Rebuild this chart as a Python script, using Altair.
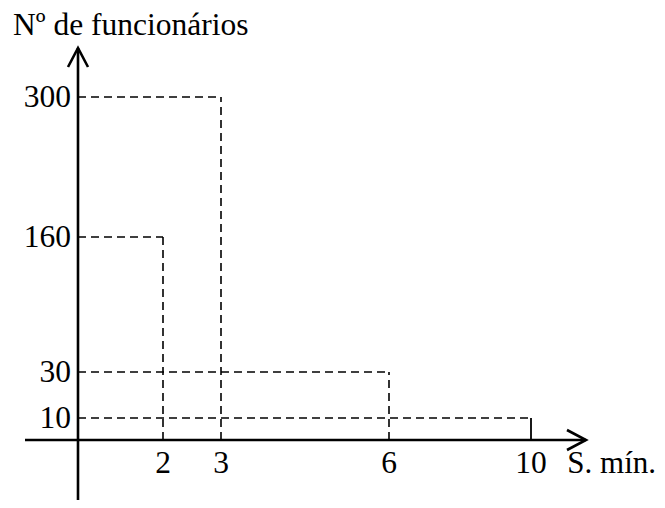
import altair as alt
import pandas as pd

# data
salarios = [2, 3, 6, 10]            # S. mín.
funcionarios = [160, 300, 30, 10]   # Nº de funcionários
x_ticks = [2, 3, 6, 10]
y_ticks = [10, 30, 160, 300]

df = pd.DataFrame({"x": salarios, "y": funcionarios})
df["x0"] = 0
df["y0"] = 0
df_xt = pd.DataFrame({"v": x_ticks, "z": 0, "t": [str(v) for v in x_ticks]})
df_yt = pd.DataFrame({"v": y_ticks, "z": 0, "t": [str(v) for v in y_ticks]})

FONT = "'Liberation Serif', 'Times New Roman', Times, serif"
FS = 31.5
xs = alt.Scale(domain=[0, 2, 3, 6, 10], range=[70, 155, 213, 381, 523], nice=False, zero=False)
ys = alt.Scale(domain=[0, 10, 30, 160, 300], range=[432, 410, 364, 229, 89], nice=False, zero=False)

base = alt.Chart(df)

hdash = base.mark_rule(color="black", strokeWidth=1.6, strokeDash=[8, 5]).encode(
    x=alt.X("x0:Q", scale=xs, axis=None),
    x2="x:Q",
    y=alt.Y("y:Q", scale=ys, axis=None),
)
vdash = base.transform_filter("datum.x < 10").mark_rule(
    color="black", strokeWidth=1.6, strokeDash=[8, 5]
).encode(
    x=alt.X("x:Q", scale=xs, axis=None),
    y=alt.Y("y0:Q", scale=ys, axis=None),
    y2="y:Q",
)
vsolid = base.transform_filter("datum.x >= 10").mark_rule(
    color="black", strokeWidth=1.8
).encode(
    x=alt.X("x:Q", scale=xs, axis=None),
    y=alt.Y("y0:Q", scale=ys, axis=None),
    y2="y:Q",
)

yaxis = alt.Chart(df_xt.head(1)).mark_rule(color="black", strokeWidth=2.6).encode(
    x=alt.X("z:Q", scale=xs, axis=None),
    y=alt.value(40),
    y2=alt.value(497),
)
xaxis = alt.Chart(df_yt.head(1)).mark_rule(color="black", strokeWidth=2.6).encode(
    y=alt.Y("z:Q", scale=ys, axis=None),
    x=alt.value(17),
    x2=alt.value(578),
)
yarrow = alt.Chart(df_xt.head(1)).mark_point(
    shape="M-1,1.9L0,0L1,1.9", filled=False, color="black", strokeWidth=2.6, size=400, opacity=1
).encode(
    x=alt.X("z:Q", scale=xs, axis=None),
    y=alt.value(40),
)
xarrow = alt.Chart(df_yt.head(1)).mark_point(
    shape="M-1.9,-1L0,0L-1.9,1", filled=False, color="black", strokeWidth=2.6, size=400, opacity=1
).encode(
    y=alt.Y("z:Q", scale=ys, axis=None),
    x=alt.value(578),
)

ylabels = alt.Chart(df_yt).mark_text(
    font=FONT, fontSize=FS, align="right", baseline="alphabetic", dy=10, color="black"
).encode(
    x=alt.value(63),
    y=alt.Y("v:Q", scale=ys, axis=None),
    text="t:N",
)
xlabels = alt.Chart(df_xt).mark_text(
    font=FONT, fontSize=FS, align="center", baseline="alphabetic", dy=33, color="black"
).encode(
    x=alt.X("v:Q", scale=xs, axis=None),
    y=alt.Y("z:Q", scale=ys, axis=None),
    text="t:N",
)

ytitle = alt.Chart(df_xt.head(1)).mark_text(
    font=FONT, fontSize=FS, align="left", baseline="alphabetic", color="black",
    text="Nº de funcionários"
).encode(x=alt.value(5), y=alt.value(27))
xtitle = alt.Chart(df_xt.head(1)).mark_text(
    font=FONT, fontSize=31, align="right", baseline="alphabetic", color="black",
    text="S. mín."
).encode(x=alt.value(648), y=alt.value(465))

chart = alt.layer(
    hdash, vdash, vsolid, yaxis, xaxis, yarrow, xarrow, ylabels, xlabels, ytitle, xtitle
).properties(
    width=649, height=492, padding=0, autosize=alt.AutoSizeParams(type="none")
).configure_view(stroke=None)

chart.save("out.html", embed_options={"renderer": "svg", "actions": False})
